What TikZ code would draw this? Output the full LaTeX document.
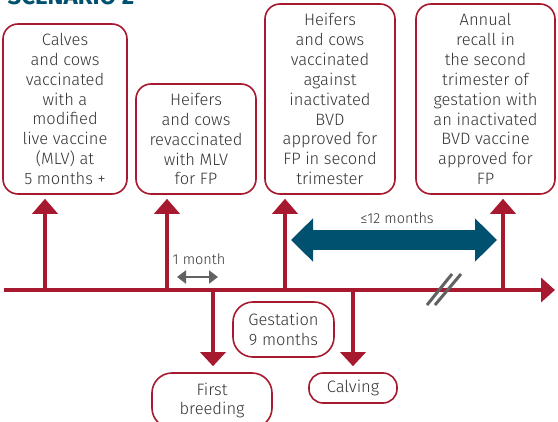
\documentclass[tikz,border=0pt]{standalone}
\usepackage{fontspec}
\IfFontExistsTF{Fira Sans Light}{\setmainfont{Fira Sans Light}[BoldFont=Fira Sans Bold]}{\setmainfont{Fira Sans}}
\usetikzlibrary{arrows.meta}
\definecolor{tlred}{HTML}{A6192E}
\definecolor{tlblue}{HTML}{00506F}
\definecolor{tlgray}{HTML}{333333}
\definecolor{tlmid}{HTML}{626262}

\begin{document}
\begin{tikzpicture}[x=1pt,y=-1pt,
	evbox/.style={draw=tlred,line width=1.6pt,rounded corners=15pt,align=center,
		text=tlgray,inner sep=0pt,font=\fontsize{16.5}{19.9}\selectfont},
	upar/.style={tlred,line width=4pt,-{Triangle[length=15pt,width=25pt]},shorten >=4pt},
	dnar/.style={tlred,line width=4pt,-{Triangle[length=14pt,width=25pt]},shorten >=6pt},
	span/.style={font=\fontsize{14.5}{16}\selectfont,text=tlgray}]
	\useasboundingbox (0,0) rectangle (558,422);
	\node[anchor=base west,text=tlblue,font=\fontsize{24}{28}\selectfont\bfseries] (title) at (4,5) {SCENARIO 2};
	% boxes above the time line
	\node[evbox,minimum width=124pt,minimum height=170pt] (calves) at (65,109)
		{Calves\\and cows\\vaccinated\\with a\\modified\\live vaccine\\(MLV) at\\5 months +};
	\node[evbox,minimum width=120pt,minimum height=110pt] (revac) at (196,139)
		{Heifers\\and cows\\revaccinated\\with MLV\\for FP};
	\node[evbox,minimum width=130pt,minimum height=190pt] (bvd) at (330,99)
		{Heifers\\and cows\\vaccinated\\against\\inactivated\\BVD\\approved for\\FP in second\\trimester};
	\node[evbox,minimum width=139pt,minimum height=190pt] (recall) at (485.5,99)
		{Annual\\recall in\\the second\\trimester of\\gestation with\\an inactivated\\BVD vaccine\\approved for\\FP};
	% boxes below the time line
	\node[evbox,rounded corners=20pt,minimum width=101pt,minimum height=55pt] (gest) at (283.5,329.5)
		{Gestation\\9 months};
	\node[evbox,rounded corners=20pt,minimum width=120pt,minimum height=55pt] (breed) at (212,400.5)
		{First\\breeding};
	\node[evbox,rounded corners=14pt,minimum width=88pt,minimum height=30pt] (calving) at (353,388)
		{Calving};
	% time line
	\coordinate (start) at (4,290);
	\coordinate (end) at (555,290);
	\coordinate (t1) at (45,290);
	\coordinate (t2) at (167,290);
	\coordinate (t3) at (285,290);
	\coordinate (t4) at (503,290);
	\coordinate (t5) at (213,290);
	\coordinate (t6) at (353,290);
	\draw[tlred,line width=4pt,-{Triangle[length=14pt,width=24pt]}] (start) -- (end);
	\draw[upar] (t1) -- (t1 |- calves.south);
	\draw[upar] (t2) -- (t2 |- revac.south);
	\draw[upar] (t3) -- (t3 |- bvd.south);
	\draw[upar] (t4) -- (t4 |- recall.south);
	\draw[dnar] (t5) -- (t5 |- breed.north);
	\draw[dnar] (t6) -- (calving.north);
	% time spans
	\node[span] (onem) at (199,259) {1 month};
	\draw[tlmid,line width=2.5pt,{Triangle[length=9pt,width=13pt]}-{Triangle[length=9pt,width=13pt]}] (177,277) -- (218,277);
	\node[span] (twelvem) at (397,218) {≤12 months};
	\draw[tlblue,line width=20pt,{Triangle[length=22pt,width=42pt]}-{Triangle[length=22pt,width=42pt]}] (291,240) -- (497,240);
	% break marks
	\draw[tlmid,line width=3pt] (427,305) -- (452,274);
	\draw[tlmid,line width=3pt] (435,305) -- (461,274);
\end{tikzpicture}
\end{document}
